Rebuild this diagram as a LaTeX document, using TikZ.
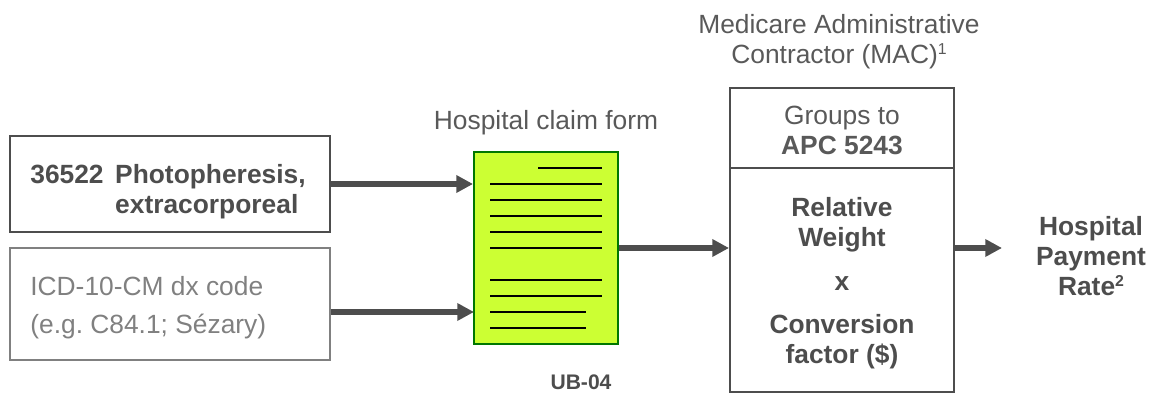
\documentclass[tikz,border=0pt]{standalone}
\usepackage{fontspec}
\setmainfont{Liberation Sans}
\usetikzlibrary{arrows.meta}
\definecolor{txtgray}{HTML}{595959}
\definecolor{drkgray}{HTML}{4D4D4D}
\definecolor{ltgray}{HTML}{808080}
\definecolor{formfill}{HTML}{CCFF33}
\definecolor{formedge}{HTML}{007700}
\newcommand{\supnum}[1]{\raisebox{5pt}{\fontsize{9}{9}\selectfont #1}}
\tikzset{
  lbl/.style = {font=\fontsize{15}{17}\selectfont, text=txtgray, align=center, inner sep=0},
  bld/.style = {lbl, font=\fontsize{15}{17}\selectfont\bfseries, text=drkgray},
  codebox/.style = {draw=drkgray, line width=1.1pt, minimum width=6.4cm, inner sep=0},
  macbox/.style = {draw=drkgray, line width=1.1pt, minimum width=4.48cm, inner sep=0},
  flow/.style = {-{Triangle[length=9.5pt, width=9.5pt]}, line width=3pt, color=drkgray},
  formline/.style = {line width=1.1pt, color=black}
}
\begin{document}
\frenchspacing
\begin{tikzpicture}
\useasboundingbox (0, 0) rectangle (23.06, 7.88);
\node (proc) at (3.4, 4.2) [codebox, minimum height=1.92cm] {};
\node (proctext) at (0.6, 4.04) [anchor=west, bld, align=left]
  {\makebox[48.3pt][l]{36522}Photopheresis,\\\hspace*{48.3pt}extracorporeal};
\node (dx) at (3.4, 1.8) [codebox, draw=gray, minimum height=2.24cm] {};
\node (dxtext) at (0.6, 1.72) [anchor=west, lbl, align=left, text=ltgray,
  font=\fontsize{15}{21.5}\selectfont]
  {ICD-10-CM dx code\\(e.g. C84.1; Sézary)};
\node (form) at (10.92, 2.92) [draw=formedge, fill=formfill, line width=1.1pt,
  minimum width=2.88cm, minimum height=3.84cm, inner sep=0] {};
\node (formtitle) at (10.92, 5.43) [lbl] {Hospital claim form};
\node (ub) at (11.62, 0.24) [bld, font=\fontsize{12}{12}\selectfont\bfseries] {UB-04};
\node (groups) at (16.84, 5.32) [macbox, minimum height=1.6cm] {};
\node (grouptext) at (16.84, 5.27) [lbl] {Groups to\\\textbf{APC 5243}};
\node (calc) at (16.84, 2.28) [macbox, minimum height=4.48cm] {};
\node (mactitle) at (16.78, 7.04) [lbl] {Medicare Administrative\\Contractor (MAC)\supnum{1}};
\node (weight) at (16.84, 3.38) [bld] {Relative\\Weight};
\node (times) at (16.84, 2.2) [bld] {x};
\node (factor) at (16.84, 1.04) [bld] {Conversion\\factor (\$)};
\node (rate) at (21.82, 2.76) [bld] {Hospital\\Payment\\Rate\supnum{2}};
% lines on the form
\draw [formline] (10.76, 4.52) to (12.04, 4.52);
\foreach \y in {4.2, 3.88, 3.56, 3.24, 2.92, 2.28, 1.96}
  \draw [formline] (9.8, \y) to (12.04, \y);
\foreach \y in {1.64, 1.32}
  \draw [formline] (9.8, \y) to (11.72, \y);
% arrows
\coordinate (procin) at (form.west |- proc);
\coordinate (dxin) at (9.48, 1.64);
\coordinate (calcin) at (calc.west |- form);
\coordinate (calcout) at (calc.east |- form);
\coordinate (rateout) at (20.04, 2.92);
\draw [flow] (proc.east) to (procin);
\draw [flow] (dx.east |- dxin) to (dxin);
\draw [flow] (form.east) to (calcin);
\draw [flow] (calcout) to (rateout);
\end{tikzpicture}
\end{document}
